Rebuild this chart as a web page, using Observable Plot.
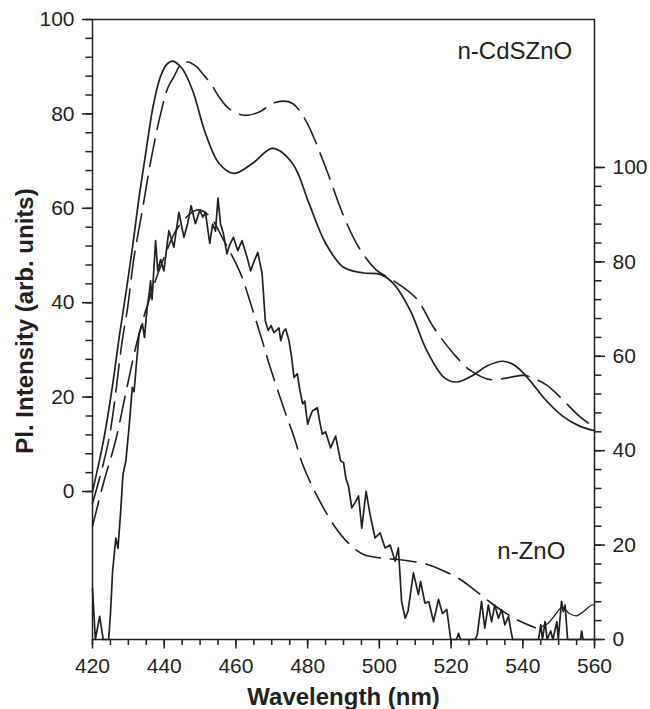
<!DOCTYPE html>
<html>
<head>
<meta charset="utf-8">
<script src="https://cdn.jsdelivr.net/npm/d3@7"></script>
<script src="https://cdn.jsdelivr.net/npm/@observablehq/plot@0.6"></script>
<style>
  html, body { margin: 0; padding: 0; background: #fff; }
  #chart { width: 650px; height: 709px; }
</style>
</head>
<body>
<div id="chart"></div>
<script>
// ---------- data (wavelength nm, intensity) ----------
// n-CdSZnO, measured (solid), left axis units
const cdsMeasured = [
  [420,0],[423,10.5],[425.5,22],[427.5,33],[429.5,43],[431.2,52],[433,62.4],[435,72.5],[437,82],[439,88],[440.7,90.5],[442.3,91.2],
  [445,89.6],[447.9,85],[451.5,75.9],[455.3,69.5],[459.5,67.4],[464.6,69.5],[470.2,72.7],[475.8,69.5],[480.4,61],[485,52.6],
  [490,47.5],[495.6,46.3],[500.3,46],[504,44],[508.6,38.4],[513.2,29.9],[518,24.2],[521.6,23.2],[526,24.6],[530,26.6],
  [534.5,27.6],[538,26.6],[542,23.5],[546,19.7],[551.4,15.8],[556,13.8],[560,12.9]
];
// n-CdSZnO, fit (dashed), left axis units
const cdsFit = [
  [420,-2.5],[424.5,10.8],[428.3,32],[429.8,39],[431.6,49.7],[433.9,59.6],[436.3,70.2],[439,80],[441,85.5],[442.8,88],[444.5,90.3],
  [446.5,91],[449,90],[450.7,88.5],[453,86.4],[455.3,83.6],[458.1,81.1],[462.3,79.7],[466.5,80.4],[470.2,82.2],[473,82.7],
  [475.8,82.2],[479.4,78.7],[485,68.7],[489.7,59],[494.2,51.8],[499.2,46.9],[503.9,44.7],[510.3,40.9],[515.1,34.8],
  [520.7,29.2],[525.3,25.7],[530.9,23.7],[536.5,24.2],[540.2,24.6],[543,24],[546.8,22.5],[550.4,20],[556,15.8],[560,13.6]
];
// n-ZnO, fit (dashed), right axis units
const znoFit = [
  [420,24],[423,33],[426.4,42],[429.5,53],[432.5,63.3],[436,72.5],[440,81],[444,87.5],[449.2,91],[452.5,89.8],[456.3,85],
  [461.3,77.5],[464.3,70.7],[467.1,63.9],[469.7,57.3],[473.2,49.3],[476.2,42.9],[478.7,36.9],[482.5,30.6],[487.6,23.9],
  [491.4,20.4],[495.6,18],[501.2,17.2],[507,16.8],[513.4,15.9],[518,14.5],[522.6,12.7],[526.5,10.5],[530.7,8],[535,5.7],
  [539.4,3.8],[543.5,2.5]
];
// n-ZnO, fit tail (thin solid), right axis units
const znoTail = [
  [545,2.6],[547,3.4],[549,5.2],[551,6.8],[553,5.5],[555,5],[557,6],[559,7.2],[560,7.4]
];
// n-ZnO, measured (noisy solid), right axis units
const znoMeasured = [
  [420,10.8],[420.8,0],[422,4.9],[423,0],[424.5,0],[425,5.3],[425.6,14.4],[426.5,21.5],[427.1,19.3],[427.8,26.5],[428.5,35],
  [429.3,37.8],[430.2,45],[431.1,53.4],[431.6,52.5],[432.2,58],[433,64.8],[433.9,66.9],[434.5,64],[435.2,70],[435.8,73.2],
  [436.2,76],[436.6,72],[437.6,84.5],[438.2,78.1],[439,80.5],[439.9,78.1],[441.3,86.6],[442.7,83.1],[444.1,90.5],[445.5,85.2],
  [446.5,88],[447.5,91.9],[448.7,88.1],[449.9,90.9],[450.8,89.5],[451.5,90.5],[452.7,83.9],[453.5,88],[454.3,86.5],[455,93.5],
  [455.7,88.1],[456.5,86],[457.5,81.7],[458.2,83.5],[459.3,85.2],[460.5,82.4],[461.7,84.5],[463.1,81],[464.1,78.1],[465,80],
  [466.1,82],[467.3,77.5],[468.2,67.5],[469,65.5],[469.8,66.5],[470.6,65],[471.3,65.5],[472,66],[472.5,63.3],[473.2,65.2],
  [473.9,65.8],[474.8,63.3],[475.5,60],[476.2,55.5],[477.1,56.3],[477.8,53],[478.6,49.9],[479.2,50.5],[480,45.6],[480.6,47],
  [481.3,48.4],[482.7,49.1],[483.4,46],[484.1,43.5],[485,44],[486.4,40.6],[487.8,43.1],[489.2,37.8],[490,37.5],[490.7,34],
  [491.4,32.5],[492.3,27.9],[493.2,29],[494.2,30.4],[495.1,23.6],[496.3,31.4],[497.4,26.5],[498.8,21.5],[500.2,22.6],
  [501.6,19.4],[503,20],[504.4,16.6],[505.3,19.4],[506.2,8.1],[507.2,4.5],[508,6],[509.5,14.1],[510.9,9.5],[511.5,12.3],
  [512.7,7.7],[513.8,8],[515.1,3.8],[516.5,8.5],[517.6,5.5],[518.8,6.4],[519.9,0],[521.5,0],[522.1,1.3],[522.6,0],[526.7,0],
  [527.3,1],[528.5,8.1],[529.4,2.4],[530.4,7.3],[531.3,3.8],[532.2,7.3],[533.2,4.5],[534.1,6.3],[535,3.1],[536,4.9],[536.9,1],
  [537.2,0],[544.4,0],[545,3.1],[545.5,0],[546.2,3.8],[546.8,0],[547.8,1.8],[548.4,0],[549.5,3.8],[549.9,0],[550.8,8.1],
  [551.3,5.9],[551.8,7.3],[552.5,0],[556.1,0],[556.4,1.8],[556.8,0],[560,0]
];

// ---------- tick labels ----------
const xMajorTicks = [420, 440, 460, 480, 500, 520, 540, 560];
const xMinorTicks = d3.range(420, 561, 5);
const leftMajorTicks = [0, 20, 40, 60, 80, 100];
const leftMinorTicks = d3.range(0, 101, 4);
const rightMajorTicks = [0, 20, 40, 60, 80, 100];
const rightMinorTicks = d3.range(0, 101, 4);

const labels = [
  {x: 521.8, y: 91.7, text: "n-CdSZnO"},
  {x: 532.9, y: -14.4, text: "n-ZnO"}
];

// right axis is offset from the left one
const RIGHT_OFFSET = 31.35;
const toLeft = r => r - RIGHT_OFFSET;

const ink = "#231f20";
const font = "'Liberation Sans', Arial, Helvetica, sans-serif";

const znoMeasuredL = znoMeasured.map(([x, r]) => [x, toLeft(r)]);
const znoFitL = znoFit.map(([x, r]) => [x, toLeft(r)]);
const znoTailL = znoTail.map(([x, r]) => [x, toLeft(r)]);

const px = d => d[0], py = d => d[1];

const chart = Plot.plot({
  width: 650,
  height: 709,
  marginLeft: 92,
  marginRight: 56,
  marginTop: 19,
  marginBottom: 70,
  x: {domain: [420, 560]},
  y: {domain: [-RIGHT_OFFSET, 100]},
  style: {fontFamily: font, background: "#fff", color: ink},
  marks: [
    // minor ticks
    Plot.axisX({ticks: xMinorTicks, tickSize: 6, tickFormat: () => "", strokeWidth: 1.5, label: null}),
    Plot.axisY({ticks: leftMinorTicks, tickSize: 6.5, tickFormat: () => "", strokeWidth: 1.5, label: null}),
    Plot.axisY({anchor: "right", ticks: rightMinorTicks.map(toLeft), tickSize: 6.5, tickFormat: () => "", strokeWidth: 1.5, label: null}),
    // major ticks with labels
    Plot.axisX({ticks: xMajorTicks, tickSize: 9.5, tickPadding: 9, fontSize: 21, strokeWidth: 1.5, label: null, tickFormat: d => String(d)}),
    Plot.axisY({ticks: leftMajorTicks, tickSize: 10, tickPadding: 8, fontSize: 21, strokeWidth: 1.5, label: null, tickFormat: d => String(d)}),
    Plot.axisY({anchor: "right", ticks: rightMajorTicks.map(toLeft), tickSize: 10, tickPadding: 8, fontSize: 21, strokeWidth: 1.5, label: null,
      tickFormat: d => String(Math.round(d + RIGHT_OFFSET))}),
    Plot.frame({stroke: ink, strokeWidth: 1.5}),
    // curves
    Plot.line(cdsMeasured, {x: px, y: py, stroke: ink, strokeWidth: 1.7, curve: "catmull-rom"}),
    Plot.line(cdsFit, {x: px, y: py, stroke: ink, strokeWidth: 1.6, curve: "catmull-rom", strokeDasharray: "28,10"}),
    Plot.line(znoFitL, {x: px, y: py, stroke: ink, strokeWidth: 1.6, curve: "catmull-rom", strokeDasharray: "26,10"}),
    Plot.line(znoTailL, {x: px, y: py, stroke: ink, strokeWidth: 1.3, curve: "catmull-rom"}),
    Plot.line(znoMeasuredL, {x: px, y: py, stroke: ink, strokeWidth: 1.7, strokeLinejoin: "round"}),
    // series labels
    Plot.text(labels, {x: "x", y: "y", text: "text", textAnchor: "start", lineAnchor: "bottom", fontSize: 24, fill: ink}),
    // axis titles
    Plot.text(["Wavelength (nm)"], {frameAnchor: "bottom", textAnchor: "middle", lineAnchor: "bottom", dy: 65, fontSize: 24, fontWeight: "bold", fill: ink}),
    Plot.text(["Pl. Intensity (arb. units)"], {frameAnchor: "left", textAnchor: "middle", rotate: -90, lineAnchor: "bottom", dx: -60, dy: -8.5, fontSize: 24, fontWeight: "bold", fill: ink})
  ]
});

document.getElementById("chart").appendChild(chart);
</script>
</body>
</html>
